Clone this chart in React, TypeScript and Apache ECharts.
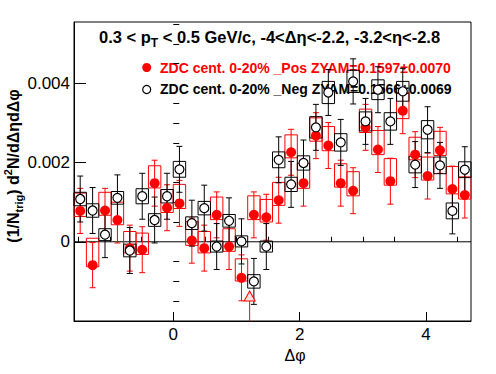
import React, { useEffect, useRef } from "react";
import * as echarts from "echarts";

const NBINS = 32;
const X_MIN = -Math.PI / 2;
const X_MAX = (3 * Math.PI) / 2;
const BIN_W = (X_MAX - X_MIN) / NBINS;
const binCenters = Array.from({ length: NBINS }, (_, i) => X_MIN + (i + 0.5) * BIN_W);

// ZDC cent. 0-20% _Pos (red, filled)
const posY = [0.00078, -0.00059, 0.00079, 0.00055, -0.00016, -0.0002, 0.00148, 0.00086, 0.00097, 0.00003, -0.00016, 0.00068, -0.00012, -0.00091, 0.00068, 0.00062, 0.00105, 0.00226, 0.00148, 0.00268, 0.00243, 0.00148, 0.00129, 0.00289, 0.00233, 0.00153, 0.00331, 0.0022, 0.00166, 0.00231, 0.00133, 0.00118];
const posErr = [0.00057, 0.00057, 0.00056, 0.00058, 0.00058, 0.00058, 0.00058, 0.00058, 0.00058, 0.00057, 0.00058, 0.00058, 0.00058, 0.00058, 0.00058, 0.00058, 0.00058, 0.00058, 0.00058, 0.00058, 0.00058, 0.00058, 0.00058, 0.00058, 0.00058, 0.00058, 0.00058, 0.00058, 0.00058, 0.00058, 0.00058, 0.00058];
const posSysUp = [0.00045, 0.00068, 0.00046, 0.00045, 0.00042, 0.00042, 0.00044, 0.00046, 0.00048, 0.00048, 0.00042, 0.00045, 0.00045, 0.00048, 0.00048, 0.00045, 0.00045, 0.00044, 0.0005, 0.00045, 0.00048, 0.00049, 0.00048, 0.00046, 0.00048, 0.00057, 0.00045, 0.00044, 0.00048, 0.00048, 0.00057, 0.00046];
const posSysDn = [0.00014, 0.00004, 0.00012, 0.00012, 0.00012, 0.00012, 0.00012, 0.00012, 0.00013, 0.00012, 0.00012, 0.00012, 0.00012, 0.00008, 0.00012, 0.00012, 0.00013, 0.00014, 0.00013, 0.00014, 0.00013, 0.0001, 0.00013, 0.00013, 0.00013, 0.0001, 0.0002, 0.00013, 0.0001, 0.00013, 0.00012, 0.0001];

// ZDC cent. 0-20% _Neg (black, open)
const negY = [0.00108, 0.00079, 0.00018, 0.00111, -0.00022, 0.00115, 0.00055, 0.00115, 0.00183, 0.00047, 0.00085, -0.00012, 0.00053, 0.00001, -0.001, -0.00012, 0.00207, 0.00145, 0.00199, 0.00289, 0.00377, 0.00251, 0.00405, 0.00304, 0.00384, 0.00304, 0.0038, 0.00195, 0.00283, 0.00193, 0.00078, 0.00182];
const negErr = [0.00058, 0.00058, 0.00058, 0.00058, 0.00058, 0.00058, 0.00058, 0.00058, 0.00058, 0.00058, 0.00058, 0.00058, 0.00058, 0.00057, 0.00058, 0.00058, 0.00058, 0.00058, 0.00058, 0.00058, 0.00058, 0.00058, 0.00057, 0.00058, 0.00058, 0.00058, 0.00058, 0.00058, 0.00058, 0.00058, 0.00058, 0.00058];
const negSys = [0.00017, 0.00017, 0.00015, 0.00016, 0.00016, 0.00019, 0.00016, 0.00017, 0.0002, 0.00016, 0.00017, 0.00014, 0.00016, 0.00014, 0.00017, 0.00014, 0.0002, 0.00018, 0.00018, 0.00027, 0.00028, 0.00022, 0.00028, 0.00024, 0.00025, 0.00022, 0.00025, 0.00021, 0.00023, 0.00021, 0.0002, 0.0002];

// stray marker near the bottom of the frame
const triX = [1.209];
const triY = [-0.00137];

const xMajor = [0, 2, 4];
const xMinor = [-1.5, -1, -0.5, 0.5, 1, 1.5, 2.5, 3, 3.5, 4.5];
const yMajor = [0, 0.002, 0.004];
const yMinor = [-0.0015, -0.001, -0.0005, 0.0005, 0.001, 0.0015, 0.0025, 0.003, 0.0035, 0.0045, 0.005, 0.0055];

const FONT = "'Liberation Sans', Arial, Helvetica, sans-serif";
const RED = "#ff0000";

function boxSeries(lo: number[], hi: number[], color: string, z: number) {
  return {
    type: "custom",
    z,
    data: binCenters.map((x, i) => [x, lo[i], hi[i]]),
    renderItem: (params: any, api: any) => {
      const x = api.value(0);
      const p1 = api.coord([x - BIN_W / 2, api.value(2)]);
      const p2 = api.coord([x + BIN_W / 2, api.value(1)]);
      return {
        type: "rect",
        shape: { x: p1[0], y: p1[1], width: p2[0] - p1[0], height: p2[1] - p1[1] },
        style: { fill: "none", stroke: color, lineWidth: 1 },
      };
    },
  };
}

function errSeries(y: number[], e: number[], color: string, z: number) {
  return {
    type: "custom",
    z,
    data: binCenters.map((x, i) => [x, y[i] - e[i], y[i] + e[i]]),
    renderItem: (params: any, api: any) => {
      const x = api.value(0);
      const top = api.coord([x, api.value(2)]);
      const bot = api.coord([x, api.value(1)]);
      const c = 3;
      const st = { stroke: color, lineWidth: 1 };
      return {
        type: "group",
        children: [
          { type: "line", shape: { x1: top[0], y1: top[1], x2: bot[0], y2: bot[1] }, style: st },
          { type: "line", shape: { x1: top[0] - c, y1: top[1], x2: top[0] + c, y2: top[1] }, style: st },
          { type: "line", shape: { x1: bot[0] - c, y1: bot[1], x2: bot[0] + c, y2: bot[1] }, style: st },
        ],
      };
    },
  };
}

export default function App() {
  const ref = useRef<HTMLDivElement>(null);
  useEffect(() => {
    if (!ref.current) return;
    const chart = echarts.init(ref.current, null, { renderer: "svg" });
    const axisCommon = {
      type: "value",
      splitLine: { show: false },
    };
    const option: any = {
      animation: false,
      backgroundColor: "#ffffff",
      grid: { left: 74, top: 22, right: 25, bottom: 53, show: true, borderColor: "#000", borderWidth: 1, backgroundColor: "transparent" },
      xAxis: [
        {
          ...axisCommon,
          min: X_MIN,
          max: X_MAX,
          axisLine: { show: true, onZero: false, lineStyle: { color: "#000", width: 1 } },
          axisTick: { show: true, inside: true, length: 9, customValues: xMajor, lineStyle: { color: "#000" } },
          axisLabel: { show: true, customValues: xMajor, fontSize: 17, color: "#000", fontFamily: FONT, margin: 5 },
        },
        {
          ...axisCommon,
          min: X_MIN,
          max: X_MAX,
          position: "bottom",
          axisLine: { show: false },
          axisTick: { show: true, inside: true, length: 5, customValues: xMinor, lineStyle: { color: "#000" } },
          axisLabel: { show: false },
        },
      ],
      yAxis: [
        {
          ...axisCommon,
          min: -0.002,
          max: 0.00555,
          axisLine: { show: true, onZero: false, lineStyle: { color: "#000", width: 1 } },
          axisTick: { show: true, inside: true, length: 12, customValues: yMajor, lineStyle: { color: "#000" } },
          axisLabel: {
            show: true,
            customValues: yMajor,
            fontSize: 17,
            color: "#000",
            fontFamily: FONT,
            margin: 4,
            formatter: (v: number) => (Math.abs(v) < 1e-9 ? "0" : v.toFixed(3)),
          },
        },
        {
          ...axisCommon,
          min: -0.002,
          max: 0.00555,
          position: "left",
          axisLine: { show: false },
          axisTick: { show: true, inside: true, length: 6, customValues: yMinor, lineStyle: { color: "#000" } },
          axisLabel: { show: false },
        },
      ],
      series: [
        {
          type: "line",
          z: 1,
          symbol: "none",
          data: [[X_MIN, 0], [X_MAX, 0]],
          lineStyle: { color: "#000", width: 1 },
        },
        boxSeries(posY.map((v, i) => v - posSysDn[i]), posY.map((v, i) => v + posSysUp[i]), RED, 3),
        errSeries(posY, posErr, RED, 4),
        boxSeries(negY.map((v, i) => v - negSys[i]), negY.map((v, i) => v + negSys[i]), "#000", 5),
        errSeries(negY, negErr, "#000", 6),
        {
          type: "scatter",
          z: 7,
          symbol: "circle",
          symbolSize: 10,
          data: binCenters.map((x, i) => [x, posY[i]]),
          itemStyle: { color: RED, opacity: 1 },
        },
        {
          type: "scatter",
          z: 8,
          symbol: "circle",
          symbolSize: 9,
          data: binCenters.map((x, i) => [x, negY[i]]),
          itemStyle: { color: "#ffffff", borderColor: "#000", borderWidth: 1.2, opacity: 1 },
        },
        {
          type: "line",
          z: 7,
          symbol: "none",
          data: [[triX[0], triY[0] - 0.00013], [triX[0], -0.002]],
          lineStyle: { color: RED, width: 1 },
        },
        {
          type: "scatter",
          z: 8,
          symbol: "triangle",
          symbolSize: [11, 10],
          data: triX.map((x, i) => [x, triY[i]]),
          itemStyle: { color: "#f2e4e4", borderColor: RED, borderWidth: 1, opacity: 1 },
        },
      ],
      graphic: [
        {
          type: "text",
          z: 0,
          x: 99,
          y: 37,
          style: {
            text: "{b|0.3 < p}{sub|T}{b| < 0.5 GeV/c, -4<Δη<-2.2, -3.2<η<-2.8}",
            verticalAlign: "middle",
            align: "left",
            rich: {
              b: { fontSize: 16.5, fontWeight: "bold", fontFamily: FONT, fill: "#000", lineHeight: 17, verticalAlign: "middle" },
              sub: { fontSize: 12, fontWeight: "bold", fontFamily: FONT, fill: "#000", lineHeight: 12, padding: [12, 0, 0, 0], verticalAlign: "middle" },
            },
          },
        },
        {
          type: "text",
          z: 0,
          x: 13,
          y: 166,
          rotation: Math.PI / 2,
          style: {
            text: "{b|(1/N}{sub|trig}{b|) d}{sup|2}{b|N/dΔηdΔφ}",
            align: "center",
            verticalAlign: "middle",
            rich: {
              b: { fontSize: 16, fontWeight: "bold", fontFamily: FONT, fill: "#000", lineHeight: 17, verticalAlign: "middle" },
              sub: { fontSize: 11, fontWeight: "bold", fontFamily: FONT, fill: "#000", lineHeight: 11, padding: [12, 0, 0, 0], verticalAlign: "middle" },
              sup: { fontSize: 11, fontWeight: "bold", fontFamily: FONT, fill: "#000", lineHeight: 11, padding: [0, 0, 10, 0], verticalAlign: "middle" },
            },
          },
        },
        {
          type: "text",
          z: 0,
          x: 295,
          y: 355,
          style: { text: "Δφ", fontSize: 16, fontFamily: FONT, fill: "#000", align: "center", verticalAlign: "middle" },
        },
        { type: "circle", z: 0, shape: { cx: 146.7, cy: 67.5, r: 4.5 }, style: { fill: RED } },
        {
          type: "text",
          z: 0,
          x: 160,
          y: 67.5,
          style: { text: "ZDC cent. 0-20% _Pos ZYAM=0.1597±0.0070", fontSize: 14, fontWeight: "bold", fontFamily: FONT, fill: RED, verticalAlign: "middle" },
        },
        { type: "circle", z: 0, shape: { cx: 146.7, cy: 89.5, r: 4 }, style: { fill: "#fff", stroke: "#000", lineWidth: 1.2 } },
        {
          type: "text",
          z: 0,
          x: 160,
          y: 89,
          style: { text: "ZDC cent. 0-20% _Neg ZYAM=0.1566±0.0069", fontSize: 14, fontWeight: "bold", fontFamily: FONT, fill: "#000", verticalAlign: "middle" },
        },
      ],
    };
    chart.setOption(option);
    return () => chart.dispose();
  }, []);
  return <div ref={ref} style={{ width: 496, height: 374, position: "absolute", left: 0, top: 0 }} />;
}
